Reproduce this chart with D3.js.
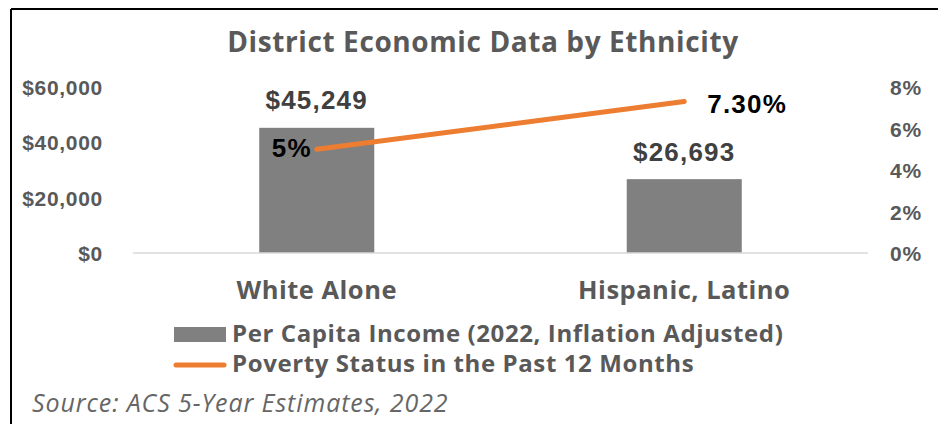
<!DOCTYPE html>
<html>
<head>
<meta charset="utf-8">
<script src="https://cdn.jsdelivr.net/npm/d3@7"></script>
<style>
  html, body { margin: 0; padding: 0; background: #ffffff; }
  svg { display: block; }
</style>
</head>
<body>
<svg id="chart" width="938" height="424"></svg>
<script>
// Per capita income and poverty rate by ethnicity
const categories = ["White Alone", "Hispanic, Latino"];
const incomeValues = [45249, 26693];
const povertyValues = [5, 7.3];
const povertyLabels = ["5%", "7.30%"];
const incomeTicks = [0, 20000, 40000, 60000];
const povertyTicks = [0, 2, 4, 6, 8];
const seriesNames = ["Per Capita Income (2022, Inflation Adjusted)", "Poverty Status in the Past 12 Months"];
const titleText = "District Economic Data by Ethnicity";
const sourceText = "Source: ACS 5-Year Estimates, 2022";

const W = 938, H = 424;
const plot = { left: 133, right: 868, top: 87, bottom: 253 };
const barColor = "#808080";
const lineColor = "#ED7D31";
const textGray = "#595959";
const labelFont = "'Liberation Sans', Arial, sans-serif";
const uiFont = "'Open Sans', Inter, sans-serif";

const svg = d3.select("#chart");

// Frame: top and left edges
svg.append("line").attr("x1", 11).attr("x2", W).attr("y1", 9).attr("y2", 9)
  .attr("stroke", "#000").attr("stroke-width", 2);
svg.append("line").attr("x1", 11).attr("x2", 11).attr("y1", 9).attr("y2", H)
  .attr("stroke", "#000").attr("stroke-width", 2);

const x = d3.scaleBand().domain(categories).range([plot.left, plot.right]).paddingInner(0.687).paddingOuter(0.3435);
const yL = d3.scaleLinear().domain([0, 60000]).range([plot.bottom, plot.top]);
const yR = d3.scaleLinear().domain([0, 8]).range([plot.bottom, plot.top]);

// Title
svg.append("text").attr("x", 483).attr("y", 52).attr("text-anchor", "middle")
  .attr("font-family", uiFont).attr("font-weight", 700).attr("font-size", 28)
  .attr("letter-spacing", 0.6)
  .attr("fill", textGray).text(titleText);

// Left axis
const leftAxis = d3.axisLeft(yL).tickValues(incomeTicks).tickSize(0).tickPadding(0)
  .tickFormat(d => "$" + d3.format(",")(d));
const gL = svg.append("g").attr("transform", "translate(103,0)").call(leftAxis);
gL.select(".domain").remove();
gL.selectAll("text").attr("font-family", labelFont).attr("font-weight", 700)
  .attr("font-size", 21).attr("letter-spacing", 0.7).attr("fill", textGray).attr("dy", "0.36em");

// Right axis
const rightAxis = d3.axisRight(yR).tickValues(povertyTicks).tickSize(0).tickPadding(0)
  .tickFormat(d => d + "%");
const gR = svg.append("g").attr("transform", "translate(890,0)").call(rightAxis);
gR.select(".domain").remove();
gR.selectAll("text").attr("font-family", labelFont).attr("font-weight", 700)
  .attr("font-size", 21).attr("letter-spacing", 0.7).attr("fill", textGray).attr("dy", "0.36em");

// Bars
svg.append("g").selectAll("rect").data(categories).join("rect")
  .attr("x", d => x(d)).attr("width", x.bandwidth())
  .attr("y", (d, i) => yL(incomeValues[i]))
  .attr("height", (d, i) => yL(0) - yL(incomeValues[i]))
  .attr("fill", barColor);

// Baseline
svg.append("line").attr("x1", plot.left).attr("x2", plot.right)
  .attr("y1", yL(0)).attr("y2", yL(0)).attr("stroke", "#d9d9d9").attr("stroke-width", 1.5);

// Income labels
svg.append("g").selectAll("text").data(categories).join("text")
  .attr("x", d => x(d) + x.bandwidth() / 2)
  .attr("y", (d, i) => yL(incomeValues[i]) - 18.5)
  .attr("text-anchor", "middle")
  .attr("font-family", labelFont).attr("font-weight", 700).attr("font-size", 26)
  .attr("letter-spacing", 1.2)
  .attr("fill", "#404040")
  .text((d, i) => "$" + d3.format(",")(incomeValues[i]));

// Poverty line
const line = d3.line().x((d, i) => x(categories[i]) + x.bandwidth() / 2).y(d => yR(d));
svg.append("path").datum(povertyValues).attr("d", line)
  .attr("fill", "none").attr("stroke", lineColor).attr("stroke-width", 5)
  .attr("stroke-linecap", "round");

// Poverty labels: left of first point, right of second
svg.append("g").selectAll("text").data(povertyValues).join("text")
  .attr("x", (d, i) => x(categories[i]) + x.bandwidth() / 2 + (i === 0 ? -5 : 23))
  .attr("y", d => yR(d))
  .attr("dy", (d, i) => i === 0 ? "0.3em" : "0.45em")
  .attr("text-anchor", (d, i) => i === 0 ? "end" : "start")
  .attr("font-family", labelFont).attr("font-weight", 700).attr("font-size", 26)
  .attr("letter-spacing", 1.2)
  .attr("fill", "#000")
  .text((d, i) => povertyLabels[i]);

// Category labels
svg.append("g").selectAll("text").data(categories).join("text")
  .attr("x", d => x(d) + x.bandwidth() / 2).attr("y", 299)
  .attr("text-anchor", "middle")
  .attr("font-family", uiFont).attr("font-weight", 700).attr("font-size", 25.5)
  .attr("letter-spacing", 0.5)
  .attr("fill", textGray).text(d => d);

// Legend
const lg = svg.append("g").attr("transform", "translate(174,0)");
lg.append("rect").attr("x", 0).attr("y", 327).attr("width", 52).attr("height", 15).attr("fill", barColor);
lg.append("line").attr("x1", 2).attr("x2", 50).attr("y1", 365).attr("y2", 365)
  .attr("stroke", lineColor).attr("stroke-width", 5).attr("stroke-linecap", "round");
lg.selectAll("text.lt").data(seriesNames).join("text").attr("class", "lt")
  .attr("x", 58).attr("y", (d, i) => 341.7 + i * 30)
  .attr("font-family", uiFont).attr("font-weight", 700).attr("font-size", 24)
  .attr("letter-spacing", 0.6)
  .attr("fill", textGray).text(d => d);

// Source note
svg.append("text").attr("x", 32).attr("y", 412)
  .attr("font-family", uiFont).attr("font-style", "italic").attr("font-size", 25)
  .attr("letter-spacing", 0.9)
  .attr("fill", "#666666").text(sourceText);
</script>
</body>
</html>
